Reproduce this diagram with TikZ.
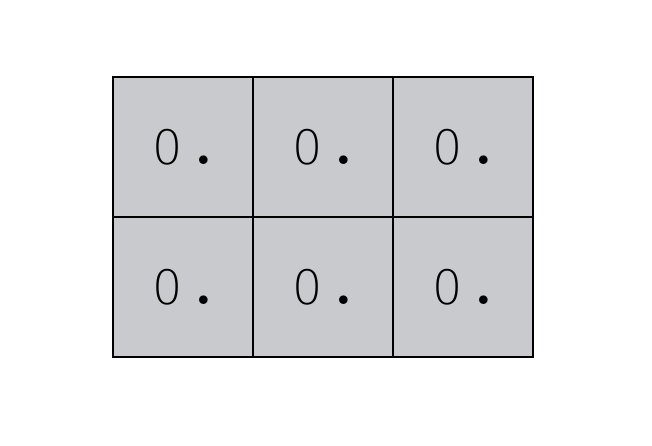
\documentclass[tikz,border=0pt]{standalone}
\usepackage{fontspec}
\usepackage{tikz}
\newfontfamily\thinfont{DejaVu Sans ExtraLight}
\definecolor{cellgrey}{RGB}{200,202,206}
\newcommand{\cellval}{{\thinfont\fontsize{13.5}{15}\selectfont 0}\hspace{3.5pt}{\rmfamily\bfseries\fontsize{17}{18}\selectfont .}\hspace{5pt}}
\begin{document}
\begin{tikzpicture}[x=0.01cm, y=0.01cm,
                    every cell/.style={draw=black, fill=cellgrey, line width=0.6pt,
                    minimum size=1.4cm, inner sep=0pt, outer sep=0pt}]
\useasboundingbox (0,0) rectangle (652,446);

\foreach \r in {0,1}
  \foreach \c in {0,1,2}
    \node[every cell] (cell\r\c) at (183+140*\c, 299-140*\r) {\cellval};
\end{tikzpicture}
\end{document}
